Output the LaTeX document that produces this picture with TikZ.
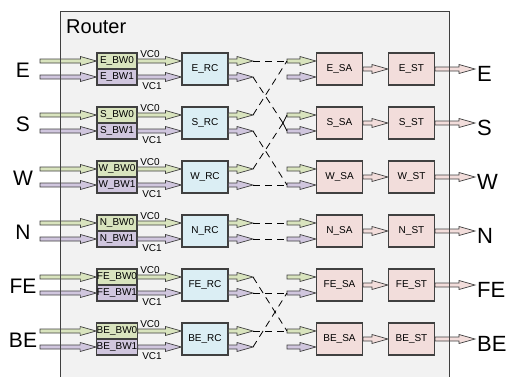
\documentclass[tikz,border=0pt]{standalone}
\usepackage{fontspec}
\setmainfont{Liberation Sans}
\usetikzlibrary{calc}
\definecolor{bwgreen}{RGB}{217,228,190}
\definecolor{bwpurple}{RGB}{208,198,222}
\definecolor{rcblue}{RGB}{219,238,244}
\definecolor{sapink}{RGB}{242,221,219}
\definecolor{routergray}{RGB}{242,242,242}
\definecolor{edgegray}{RGB}{64,64,64}

% hollow arrow from #2 to #3 (horizontal), filled with #1
\newcommand{\fatarrow}[3]{%
  \path[arrowbody, fill=#1] let \p1=(#2), \p2=(#3) in
    (\x1,\y1+2pt) -- (\x2-16pt,\y1+2pt) -- (\x2-16pt,\y1+4.5pt) -- (\x2,\y1)
    -- (\x2-16pt,\y1-4.5pt) -- (\x2-16pt,\y1-2pt) -- (\x1,\y1-2pt) -- cycle;}

\begin{document}
\begin{tikzpicture}[x=1pt,y=-1pt,
  arrowbody/.style={draw=edgegray, line width=0.7pt, line join=miter},
  bwbox/.style={draw=edgegray, line width=1.2pt, minimum width=40pt, minimum height=16pt,
    inner sep=0pt, font=\fontsize{10}{12}\selectfont},
  mainbox/.style={draw=edgegray, line width=1.2pt, minimum width=46pt, minimum height=32pt,
    inner sep=0pt, font=\fontsize{10}{12}\selectfont},
  vclabel/.style={inner sep=0pt, font=\fontsize{10}{12}\selectfont},
  portlabel/.style={inner sep=0pt, font=\fontsize{21}{24}\selectfont},
  link/.style={draw=black, line width=0.8pt, dash pattern=on 7pt off 5pt},
  fork/.style={draw=black, line width=0.8pt}]
  \useasboundingbox (0,0) rectangle (507,376);
  \clip (0,0) rectangle (507,376);
  \def\rowtop{61}
  \def\rowgap{54}
  \def\xin{40}
  \def\xbw{117}
  \def\xrc{205}
  \def\xtip{253}
  \def\xsain{287}
  \def\xsa{339.5}
  \def\xst{411.5}
  \def\xout{475}

%router box:
  \fill[routergray] (60,11) rectangle (449,400);
  \node[anchor=base west, inner sep=0pt, font=\fontsize{20}{24}\selectfont] (router) at (66,33) {Router};
%%%%%%

  \foreach \dir [count=\i from 0] in {E,S,W,N,FE,BE}{
    \pgfmathsetmacro{\rowy}{\rowtop+\rowgap*\i}
    \pgfmathsetmacro{\rowm}{\rowy+8}
    \pgfmathsetmacro{\rowl}{\rowy+16}
    \node[portlabel, anchor=base] (in\dir) at (23,\rowl) {\dir};
    \node[portlabel, anchor=base west, font=\fontsize{22}{24}\selectfont] (out\dir) at (477,\rowm+12) {\dir};
    \node[bwbox, fill=bwgreen] (bw0\dir) at (\xbw,\rowy) {\dir\_BW0};
    \node[bwbox, fill=bwpurple] (bw1\dir) at (\xbw,\rowl) {\dir\_BW1};
    \node[mainbox, fill=rcblue] (rc\dir) at (\xrc,\rowm) {\dir\_RC};
    \node[mainbox, fill=sapink] (sa\dir) at (\xsa,\rowm) {\dir\_SA};
    \node[mainbox, fill=sapink] (st\dir) at (\xst,\rowm) {\dir\_ST};
    \node[vclabel] (vc0\dir) at (150,\rowy-7) {VC0};
    \node[vclabel] (vc1\dir) at (152,\rowl+9) {VC1};
    \coordinate (src0\dir) at (\xin,\rowy);
    \coordinate (src1\dir) at (\xin,\rowl);
    \coordinate (tip0\dir) at (\xtip,\rowy);
    \coordinate (tip1\dir) at (\xtip,\rowl);
    \coordinate (sin0\dir) at (\xsain,\rowy);
    \coordinate (sin1\dir) at (\xsain,\rowl);
    \coordinate (dst\dir) at (\xout,\rowm);
    % buffers -> route -> switch
    \fatarrow{bwgreen}{src0\dir}{bw0\dir.west}
    \fatarrow{bwpurple}{src1\dir}{bw1\dir.west}
    \fatarrow{bwgreen}{bw0\dir.east}{rc\dir.west}
    \fatarrow{bwpurple}{bw1\dir.east}{rc\dir.west}
    \fatarrow{bwgreen}{rc\dir.east |- tip0\dir}{tip0\dir}
    \fatarrow{bwpurple}{rc\dir.east |- tip1\dir}{tip1\dir}
    \fatarrow{bwgreen}{sin0\dir}{sa\dir.west}
    \fatarrow{bwpurple}{sin1\dir}{sa\dir.west}
    \fatarrow{sapink}{sa\dir.east}{st\dir.west}
    \fatarrow{sapink}{st\dir.east}{dst\dir}
  }

%crossbar links:
  \coordinate (forkS) at (283,123);
  \draw[link] (tip0E) -- (sin0E);
  \draw[link] (tip1E) -- (forkS);
  \draw[link] (tip0S) -- (sin0E);
  \draw[link] (tip1S) -- (sin1W);
  \draw[link] (tip0W) -- (forkS);
  \draw[link] (tip1W) -- (sin1W);
  \draw[link] (tip0N) -- (sin0N);
  \draw[link] (tip1N) -- (sin1N);
  \draw[link] (tip0FE) -- (sin0BE);
  \draw[link] (tip1FE) -- (sin1FE);
  \draw[link] (tip0BE) -- (sin0BE);
  \draw[link] (tip1BE) -- (sin1FE);
  \draw[fork] (sin0S) -- (forkS) -- (sin1S);

  \draw[edgegray, line width=1pt] (60,400) -- (60,11) -- (449,11) -- (449,400);
\end{tikzpicture}
\end{document}
